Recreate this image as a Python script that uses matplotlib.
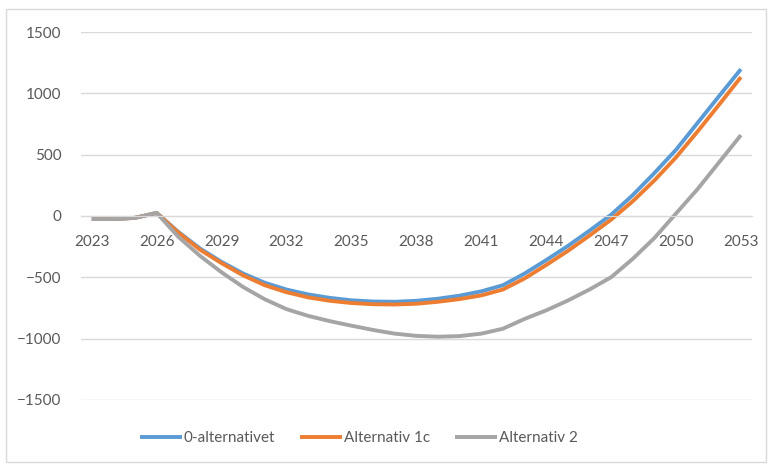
import matplotlib.pyplot as plt
from matplotlib.patches import Rectangle

years = list(range(2023, 2054))

alt0 = [-25, -25, -15, 25, -130, -265, -375, -470, -545, -600, -640, -668,
        -688, -698, -700, -692, -675, -650, -615, -565, -470, -360, -245,
        -120, 10, 170, 350, 540, 760, 980, 1198]
alt1c = [-25, -25, -15, 25, -135, -275, -385, -485, -565, -622, -664, -692,
         -710, -720, -722, -716, -700, -678, -648, -600, -510, -400, -285,
         -160, -30, 120, 290, 478, 690, 910, 1133]
alt2 = [-25, -25, -15, 25, -170, -325, -460, -580, -680, -760, -815, -858,
        -895, -930, -960, -978, -985, -980, -960, -920, -840, -770, -690,
        -600, -500, -350, -180, 20, 220, 440, 660]

series = [
    ("0-alternativet", alt0, "#5B9BD5"),
    ("Alternativ 1c", alt1c, "#ED7D31"),
    ("Alternativ 2", alt2, "#A5A5A5"),
]

plt.rcParams["font.family"] = ["Lato", "DejaVu Sans"]
text_col = "#595959"

fig = plt.figure(figsize=(7.71, 4.66), dpi=100)
ax = fig.add_axes([0.105, 0.142, 0.870, 0.789])

# chart border
fig.patches.append(Rectangle((6 / 771, 4 / 466), 760 / 771, 453 / 466,
                             transform=fig.transFigure, fill=False,
                             edgecolor="#D9D9D9", linewidth=1))

x = list(range(len(years)))
for label, vals, col in series:
    ax.plot(x, vals, color=col, linewidth=2.8, label=label,
            solid_capstyle="butt", solid_joinstyle="round")

ax.set_xlim(-0.5, len(years) - 0.5)
ax.set_ylim(-1500, 1500)
ax.set_yticks(range(-1500, 1501, 500))
ax.set_xticks(x[::3])
ax.set_xticklabels([str(y) for y in years[::3]])

ax.grid(axis="y", color="#D9D9D9", linewidth=1)
ax.set_axisbelow(True)
for name in ["top", "right", "left"]:
    ax.spines[name].set_visible(False)
ax.spines["bottom"].set_position(("data", 0))
ax.spines["bottom"].set_color("#D9D9D9")
ax.tick_params(axis="both", length=0, labelsize=11, labelcolor=text_col)
ax.tick_params(axis="x", pad=14)
ax.tick_params(axis="y", pad=14)

leg = ax.legend(loc="center", bbox_to_anchor=(0.414, -0.105), ncol=3,
                frameon=False, fontsize=11, handlelength=2.8,
                handletextpad=0.1, columnspacing=1.6)
for t in leg.get_texts():
    t.set_color(text_col)

fig.savefig("out.png", dpi=100)
